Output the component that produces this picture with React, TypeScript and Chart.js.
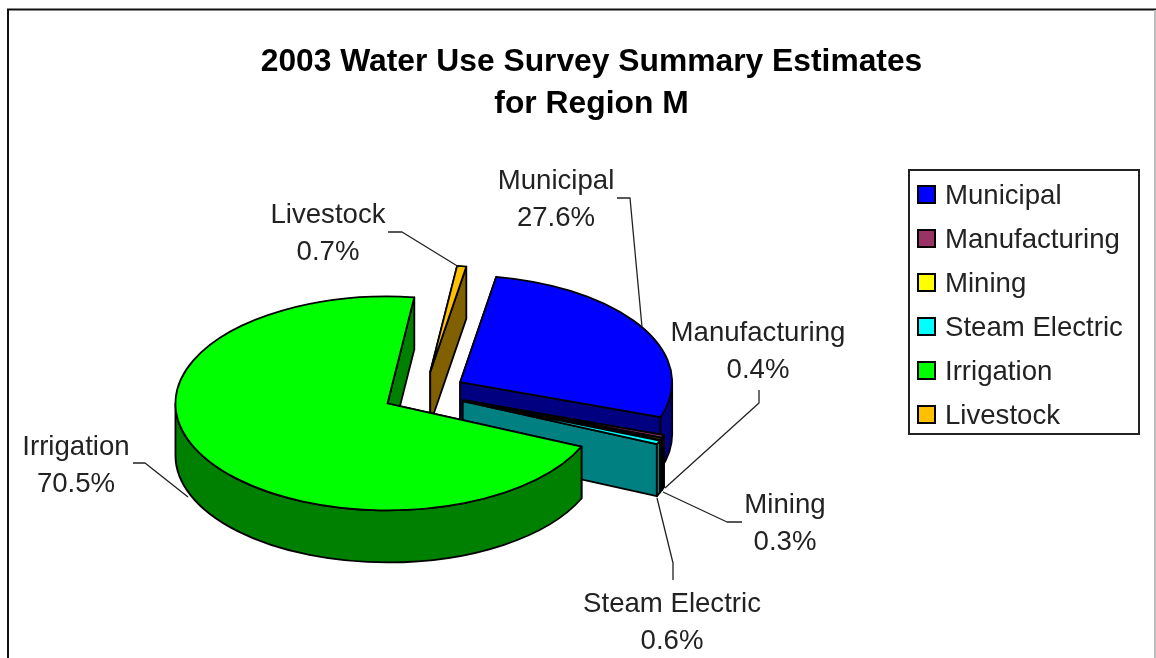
import { useEffect, useRef } from "react";
import { Chart, registerables } from "chart.js";

Chart.register(...registerables);

const categories = ["Municipal", "Manufacturing", "Mining", "Steam Electric", "Irrigation", "Livestock"];
const shares = [27.6, 0.4, 0.3, 0.6, 70.5, 0.7];
const topColors = ["#0000FF", "#993366", "#FFFF00", "#00FFFF", "#00FF00", "#FFC000"];
const sideColors = ["#000080", "#4D1A33", "#808000", "#008080", "#008000", "#806000"];
const titleLines = ["2003 Water Use Survey Summary Estimates", "for Region M"];

const FONT = "'Liberation Sans', Arial, sans-serif";

// Projection of the flat pie into the tilted, extruded view.
const pie = { cx: 424, cy: 393, rx: 212, ry: 107, explode: 42, depth: 52 };

// Callout placement per category: text centre and leader polyline.
const callouts = [
  { x: 556, y: 180, line: [[617, 198], [630, 198], [642, 327]] },
  { x: 758, y: 332, line: [[759, 390], [759, 403], [665, 488]] },
  { x: 785, y: 504, line: [[742, 522], [727, 522], [663, 492]] },
  { x: 672, y: 603, line: [[673, 580], [673, 563], [657, 498]] },
  { x: 76, y: 446, line: [[133, 463], [145, 463], [188, 497]] },
  { x: 328, y: 214, line: [[388, 232], [402, 232], [459, 267]] },
];

const legendBox = {
  left: 909, top: 170, right: 1139, bottom: 434,
  swatchX: 918, swatchY: 186, swatchSize: 17, rowStep: 44, gap: 16.4,
};

function drawSlice(ctx: CanvasRenderingContext2D, arc: any, top: string, side: string) {
  const { startAngle: a0, endAngle: a1 } = arc;
  const mid = (a0 + a1) / 2;
  const ax = pie.cx + Math.cos(mid) * pie.explode;
  const ay = pie.cy + (Math.sin(mid) * pie.explode * pie.ry) / pie.rx;
  const d = pie.depth;

  ctx.lineWidth = 1.8;
  ctx.lineJoin = "round";
  ctx.strokeStyle = "#000";

  // Radial cut faces
  ctx.fillStyle = side;
  for (const t of [a0, a1]) {
    const ex = ax + pie.rx * Math.cos(t);
    const ey = ay + pie.ry * Math.sin(t);
    ctx.beginPath();
    ctx.moveTo(ax, ay);
    ctx.lineTo(ex, ey);
    ctx.lineTo(ex, ey + d);
    ctx.lineTo(ax, ay + d);
    ctx.closePath();
    ctx.fill();
    ctx.stroke();
  }

  // Outer wall, only over the half of the rim that faces the viewer
  for (let k = -1; k <= 1; k++) {
    const s = Math.max(a0, k * 2 * Math.PI);
    const e = Math.min(a1, k * 2 * Math.PI + Math.PI);
    if (e <= s) continue;
    ctx.beginPath();
    ctx.ellipse(ax, ay, pie.rx, pie.ry, 0, s, e);
    ctx.ellipse(ax, ay + d, pie.rx, pie.ry, 0, e, s, true);
    ctx.closePath();
    ctx.fill();
    ctx.stroke();
  }

  // Top surface
  ctx.fillStyle = top;
  ctx.beginPath();
  ctx.moveTo(ax, ay);
  ctx.ellipse(ax, ay, pie.rx, pie.ry, 0, a0, a1);
  ctx.closePath();
  ctx.fill();
  ctx.stroke();
}

const pie3d = {
  id: "pie3d",
  beforeDraw(chart: any) {
    const { ctx, width, height } = chart;
    ctx.save();
    ctx.fillStyle = "#fff";
    ctx.fillRect(0, 0, width, height);
    // Outer frame: dark on the left and top, pale on the right, open at the bottom
    ctx.strokeStyle = "#111";
    ctx.lineWidth = 2;
    ctx.beginPath();
    ctx.moveTo(8, height);
    ctx.lineTo(8, 9.5);
    ctx.lineTo(width, 9.5);
    ctx.stroke();
    ctx.strokeStyle = "#BBB";
    ctx.beginPath();
    ctx.moveTo(1155, 10);
    ctx.lineTo(1155, height);
    ctx.stroke();
    // Legend frame
    ctx.strokeStyle = "#222";
    ctx.strokeRect(legendBox.left, legendBox.top, legendBox.right - legendBox.left, legendBox.bottom - legendBox.top);
    ctx.restore();
  },
  afterLayout(chart: any) {
    // Legend and title sit at fixed spots, independent of the pie's layout box
    const legend = chart.legend;
    const w = legend.width;
    const h = legend.height;
    legend.left = legendBox.swatchX - legendBox.gap;
    legend.right = legend.left + w;
    legend.top = legendBox.swatchY - legendBox.gap - 3;
    legend.bottom = legend.top + h;
    chart.titleBlock.left += 13.5;
    chart.titleBlock.right += 13.5;
  },
  beforeDatasetsDraw(chart: any) {
    const { ctx } = chart;
    const arcs = chart.getDatasetMeta(0).data.map((arc: any, i: number) => ({ arc, i }));
    const depthKey = (a: any) => Math.sin((a.arc.startAngle + a.arc.endAngle) / 2);
    ctx.save();
    [...arcs].sort((a, b) => depthKey(a) - depthKey(b)).forEach(({ arc, i }) => drawSlice(ctx, arc, topColors[i], sideColors[i]));

    // Leader lines and value labels
    ctx.strokeStyle = "#222";
    ctx.lineWidth = 1.3;
    ctx.fillStyle = "#222";
    ctx.font = `27.6px ${FONT}`;
    ctx.textAlign = "center";
    ctx.textBaseline = "middle";
    callouts.forEach((c, i) => {
      ctx.beginPath();
      c.line.forEach(([x, y], j) => (j ? ctx.lineTo(x, y) : ctx.moveTo(x, y)));
      ctx.stroke();
      ctx.fillText(categories[i], c.x, c.y + 1.5);
      ctx.fillText(`${shares[i].toFixed(1)}%`, c.x, c.y + 38);
    });
    ctx.restore();
    return false;
  },
  afterDraw(chart: any) {
    // Legend swatches are wider than the box width that sets the text gap
    const { ctx } = chart;
    ctx.save();
    ctx.lineWidth = 2;
    ctx.strokeStyle = "#000";
    chart.legend.legendItems.forEach((item: any, i: number) => {
      const y = legendBox.swatchY + i * legendBox.rowStep;
      ctx.fillStyle = item.fillStyle;
      ctx.fillRect(legendBox.swatchX, y, legendBox.swatchSize, legendBox.swatchSize);
      ctx.strokeRect(legendBox.swatchX, y, legendBox.swatchSize, legendBox.swatchSize);
    });
    ctx.restore();
  },
};

export default function App() {
  const ref = useRef<HTMLCanvasElement>(null);
  useEffect(() => {
    const chart = new Chart(ref.current!, {
      type: "pie",
      data: {
        labels: categories,
        datasets: [{ data: shares, backgroundColor: topColors, borderColor: "#000", borderWidth: 2 }],
      },
      options: {
        responsive: false,
        animation: false,
        rotation: 9.8,
        font: { family: FONT },
        plugins: {
          tooltip: { enabled: false },
          title: {
            display: true,
            text: titleLines,
            color: "#000",
            padding: { top: 41, bottom: 0 },
            font: { family: FONT, size: 31.8, weight: "bold", lineHeight: 42 / 31.8 },
          },
          legend: {
            display: true,
            position: "right",
            align: "start",
            labels: {
              color: "#222",
              boxWidth: 13.2,
              boxHeight: 12,
              padding: legendBox.gap,
              font: { family: FONT, size: 27.6 },
            },
          },
        },
      } as any,
      plugins: [pie3d as any],
    });
    return () => chart.destroy();
  }, []);
  return (
    <canvas
      ref={ref}
      width={1156}
      height={658}
      style={{ position: "fixed", left: 0, top: 0, display: "block" }}
    />
  );
}
